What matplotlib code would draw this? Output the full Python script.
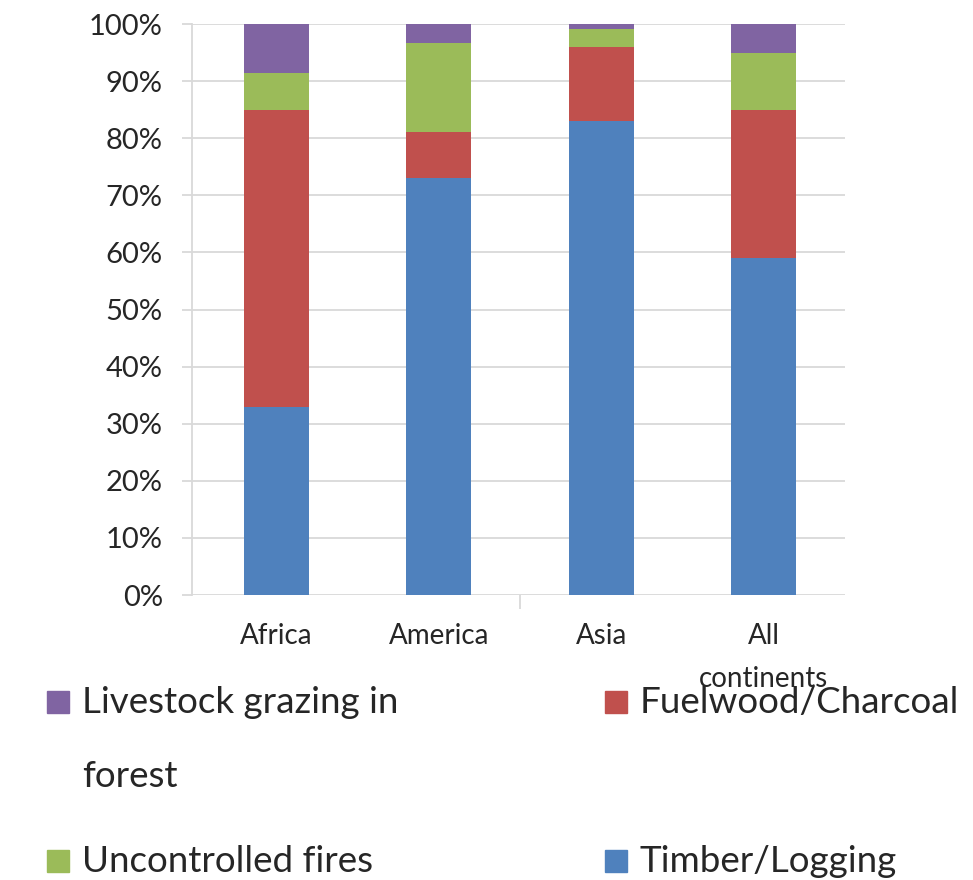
import matplotlib
matplotlib.use("Agg")
import matplotlib.pyplot as plt
from matplotlib.patches import Rectangle
import numpy as np

# data (share of drivers, %)
regions = ["Africa", "America", "Asia", "All\ncontinents"]
timber = [33, 73, 83, 59]
fuelwood = [52, 8, 13, 26]
fires = [6.5, 15.7, 3.1, 10]
livestock = [8.5, 3.3, 0.9, 5]

series = [
    ("Timber/Logging", timber, "#4F81BD"),
    ("Fuelwood/Charcoal", fuelwood, "#C0504D"),
    ("Uncontrolled fires", fires, "#9BBB59"),
    ("Livestock grazing in\nforest", livestock, "#8064A2"),
]

plt.rcParams["font.family"] = ["Lato", "DejaVu Sans"]
txt = "#262626"
grid = "#d9d9d9"

W, H = 973, 880
fig = plt.figure(figsize=(W / 100, H / 100), dpi=100)
ax = fig.add_axes([192 / W, 1 - 595 / H, (845 - 192) / W, (595 - 24) / H])

x = np.arange(len(regions))
bottom = np.zeros(len(regions))
for name, vals, col in series:
    ax.bar(x, vals, width=0.4, bottom=bottom, color=col, zorder=3)
    bottom += np.array(vals)

ax.set_xlim(-0.52, 3.5)
ax.set_ylim(0, 100)
ax.set_yticks(np.arange(0, 101, 10))
ax.set_yticklabels([f"{v}%" for v in range(0, 101, 10)], fontsize=21, color=txt)
ax.yaxis.grid(True, color=grid, linewidth=1.3, zorder=0)
ax.tick_params(axis="y", length=7, color=grid, width=1.3, pad=14)

ax.set_xticks(x)
ax.set_xticklabels(regions, fontsize=20, color=txt, linespacing=1.8)
ax.tick_params(axis="x", length=0, pad=20)
ax.set_xticks([1.5], minor=True)
ax.tick_params(axis="x", which="minor", length=10, color=grid, width=1.3)

for s in ["top", "right", "bottom"]:
    ax.spines[s].set_visible(False)
ax.spines["left"].set_color(grid)
ax.spines["left"].set_linewidth(1.3)
ax.spines["left"].set_bounds(0, 100)

# legend drawn by hand, two columns like the original
legend_pos = {
    "Livestock grazing in\nforest": (47, 702),
    "Fuelwood/Charcoal": (605, 702),
    "Uncontrolled fires": (47, 861),
    "Timber/Logging": (605, 861),
}
sq = 22
for name, vals, col in series:
    px, py = legend_pos[name]
    fig.patches.append(Rectangle((px / W, 1 - (py + sq / 2) / H), sq / W, sq / H,
                                 transform=fig.transFigure, color=col))
    fig.text((px + 35) / W, 1 - (py - 16) / H, name, fontsize=26.5, color=txt,
             va="top", ha="left", linespacing=2.5)

fig.savefig("out.png", dpi=100, facecolor="white")
